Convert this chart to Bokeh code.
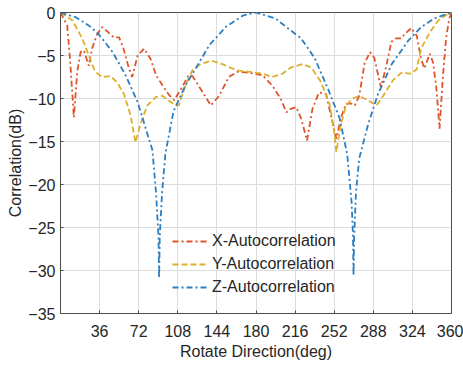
from bokeh.plotting import figure
from bokeh.models import FixedTicker, Legend, LegendItem, Range1d
from bokeh.embed import file_html
from bokeh.resources import INLINE

# Rotation angle (deg) and autocorrelation (dB) for each axis
x_deg = [0, 6.2, 9.2, 12.3, 15.4, 18.5, 21.5, 26, 29, 33.8, 38.5, 44, 49, 54, 58, 63, 66,
         71, 77, 83, 88, 94, 100, 104.6, 111, 118, 121.5, 131, 138.5, 146, 155, 163,
         174, 186, 195, 203, 208, 212, 217, 221.5, 227, 232, 238, 244.6, 249, 254, 258,
         263, 268, 271, 275, 280, 285, 289, 295, 300, 304.6, 309, 314, 317, 323, 328,
         332, 335, 340, 343, 346, 349, 352, 355, 358, 360]
x_db = [0, -1.5, -6.2, -12.2, -6.9, -4.6, -4.4, -6.2, -4.2, -2.5, -1.7, -2.3, -2.9, -2.9,
        -4.2, -6.5, -7.5, -5.0, -4.2, -5.4, -7.3, -8.5, -9.6, -10.2, -8.9, -7.3, -7.4,
        -9.3, -10.8, -9.7, -7.5, -6.9, -7.0, -7.3, -8.5, -10.1, -11.6, -11.2, -11.0, -12.3,
        -14.9, -11.2, -9.3, -9.5, -12.0, -14.7, -12.3, -10.6, -10.6, -10.8, -9.7, -5.9,
        -4.6, -5.3, -8.7, -6.2, -3.4, -3.0, -3.0, -2.5, -1.8, -2.7, -5.4, -6.5, -4.8,
        -5.8, -8.7, -13.5, -7.6, -3.0, -0.7, 0]

y_deg = [0, 10.8, 20, 26, 32, 38.5, 46, 52, 58.5, 64.6, 69, 74, 80, 88, 94, 101.5, 106,
         109, 115, 121.5, 129, 138.5, 149, 161.5, 174, 186, 195, 204.6, 212, 223, 231,
         240, 248, 252, 254, 258, 263, 269, 275, 283, 291, 297, 306, 314, 323, 328, 332,
         340, 348, 355, 360]
y_db = [0, -0.9, -3.0, -5.0, -6.9, -7.5, -7.4, -8.1, -9.5, -12.0, -15.1, -12.8, -10.8,
        -9.8, -9.7, -10.4, -10.8, -10.8, -8.5, -6.7, -6.0, -5.6, -6.0, -6.7, -6.9, -7.1,
        -7.5, -7.1, -6.4, -6.0, -6.4, -8.1, -10.8, -13.9, -16.2, -13.1, -10.8, -10.0,
        -9.7, -10.2, -10.8, -9.7, -7.9, -7.0, -7.1, -6.6, -4.2, -2.3, -0.9, -0.3, 0]

z_deg = [0, 14, 26, 35, 48, 60, 71, 78.5, 84.6, 88, 90.2, 90.8, 91.4, 93.5, 96.5, 104,
         115, 125, 137, 152, 168, 180, 198, 208, 221.5, 234, 246, 257, 264, 268, 269.3,
         269.8, 270.4, 272, 275, 283, 292, 305, 314, 320, 332, 344, 360]
z_db = [0, -0.55, -1.5, -2.5, -4.6, -7.3, -10.4, -13.5, -16.0, -21.0, -26.0, -30.9,
        -26.0, -21.0, -16.5, -11.5, -8.5, -6.4, -3.8, -1.7, -0.35, 0, -0.7, -1.7, -3.0,
        -5.3, -8.8, -12.3, -16.5, -22.0, -26.0, -30.6, -26.0, -21.0, -17.0, -13.1, -9.6,
        -6.0, -4.4, -3.3, -1.7, -0.7, 0]

x_ticks = [36, 72, 108, 144, 180, 216, 252, 288, 324, 360]
y_ticks = [-35, -30, -25, -20, -15, -10, -5, 0]

labels = ["X-Autocorrelation", "Y-Autocorrelation", "Z-Autocorrelation"]

FONT = "Liberation Sans"
TEXT = "#262626"

p = figure(frame_width=391, frame_height=301, output_backend="svg", toolbar_location=None,
           x_range=Range1d(0, 360), y_range=Range1d(-35, 0),
           min_border_left=60, min_border_right=12, min_border_top=12, min_border_bottom=53)
p.background_fill_color = "white"
p.border_fill_color = "white"
p.outline_line_color = "#4d4d4d"
p.outline_line_width = 1

for ax in (p.xaxis[0], p.yaxis[0]):
    ax.major_label_text_font = FONT
    ax.major_label_text_font_size = "16px"
    ax.major_label_text_color = TEXT
    ax.axis_label_text_font = FONT
    ax.axis_label_text_font_size = "16px"
    ax.axis_label_text_font_style = "normal"
    ax.axis_label_text_color = TEXT
    ax.axis_line_color = "#4d4d4d"
    ax.major_tick_line_color = "#4d4d4d"
    ax.major_tick_in = 3
    ax.major_tick_out = 0
    ax.minor_tick_line_color = None

p.xaxis.ticker = FixedTicker(ticks=x_ticks)
p.yaxis.ticker = FixedTicker(ticks=y_ticks)
p.xaxis.axis_label = "Rotate Direction(deg)"
p.yaxis.axis_label = "Correlation(dB)"
p.xaxis.major_label_standoff = 11
p.yaxis.major_label_standoff = 5
p.xaxis.axis_label_standoff = 3
p.yaxis.axis_label_standoff = 1

p.grid.grid_line_color = "#dcdcdc"
p.grid.grid_line_width = 1

r_x = p.line(x_deg, x_db, line_color="#E0542A", line_width=1.8, line_dash="6 3 2 3")
r_y = p.line(y_deg, y_db, line_color="#DDAF2C", line_width=1.8, line_dash="6 3")
r_z = p.line(z_deg, z_db, line_color="#2A7EC4", line_width=1.8, line_dash="6 3 2 3")

legend = Legend(items=[LegendItem(label=labels[0], renderers=[r_x]),
                       LegendItem(label=labels[1], renderers=[r_y]),
                       LegendItem(label=labels[2], renderers=[r_z])],
                location=(112, 16), padding=0, margin=0, spacing=3,
                glyph_width=36, glyph_height=20, label_height=20, label_standoff=4,
                label_text_font=FONT, label_text_font_size="16px", label_text_color=TEXT,
                border_line_alpha=0, background_fill_alpha=0)
p.add_layout(legend, "center")

open("out.html", "w").write(file_html(p, INLINE))
